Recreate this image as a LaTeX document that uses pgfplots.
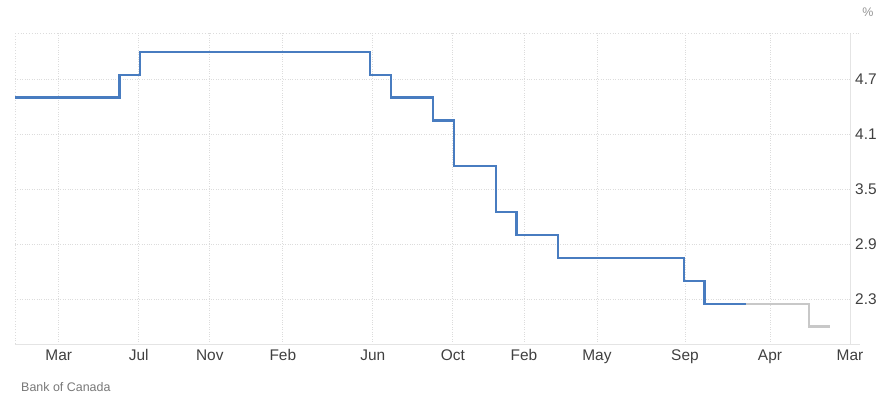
\documentclass[border=0pt]{standalone}
\usepackage{pgfplots}
\pgfplotsset{compat=1.18}
\usepackage{fontspec}
\setmainfont{Liberation Sans}
\definecolor{bocblue}{RGB}{72,124,192}
\definecolor{fcgrey}{RGB}{200,200,200}
\definecolor{gridc}{RGB}{220,220,220}
\definecolor{axisc}{RGB}{228,228,228}
\definecolor{ticktxt}{RGB}{64,64,64}
\definecolor{srctxt}{RGB}{120,120,120}
\definecolor{pcttxt}{RGB}{150,150,150}
\begin{document}
\begin{tikzpicture}[x=1bp,y=1bp]
\path[use as bounding box] (0,0) rectangle (888,402);
\begin{axis}[
  at={(15bp,58bp)}, anchor=south west,
  width=835bp, height=311bp, scale only axis,
  xmin=0, xmax=39.96, ymin=1.81, ymax=5.205,
  axis x line*=bottom, axis y line*=right,
  axis line style={draw=axisc, line width=1bp, -},
  xtick={2.094,5.924,9.323,12.818,17.126,20.955,24.354,27.849,32.061,36.13,39.96},
  xticklabels={Mar,Jul,Nov,Feb,Jun,Oct,Feb,May,Sep,Apr,Mar},
  ytick={2.3,2.9,3.5,4.1,4.7},
  yticklabels={2.3,2.9,3.5,4.1,4.7},
  major tick length=0pt,
  xmajorgrids, ymajorgrids,
  grid style={draw=gridc, dotted, line width=0.8bp},
  xticklabel style={font=\fontsize{15.5}{15.5}\selectfont, text=ticktxt, anchor=north, inner sep=0pt, text height=11bp, text depth=0pt, yshift=-5bp},
  yticklabel style={font=\fontsize{15.5}{15.5}\selectfont, text=ticktxt, anchor=west, inner sep=0pt, xshift=5bp},
  clip=false,
]
\draw[draw=gridc, dotted, line width=0.8bp] (rel axis cs:0,1) -- ([xshift=10bp]rel axis cs:1,1);
\draw[draw=gridc, dotted, line width=0.8bp] (rel axis cs:0,0) -- (rel axis cs:0,1);
\draw[draw=axisc, line width=1bp] (rel axis cs:1,0) -- ([xshift=10bp]rel axis cs:1,0);
\addplot[const plot, draw=fcgrey, line width=2.2bp, line join=miter] coordinates {
  (35,2.25) (38,2.0) (39,2.0)
};
\addplot[const plot, draw=bocblue, line width=2.2bp, line join=miter] coordinates {
  (0,4.5) (5,4.75) (6,5.0) (17,4.75) (18,4.5) (20,4.25) (21,3.75)
  (23,3.25) (24,3.0) (26,2.75) (32,2.5) (33,2.25) (35,2.25)
};
\end{axis}
\node[anchor=center, inner sep=0pt, text=pcttxt, font=\fontsize{12.5}{12.5}\selectfont] at (868,389.5) {\%};
\node[anchor=base west, inner sep=0pt, text=srctxt, font=\fontsize{12.5}{12.5}\selectfont] at (21,10.3) {Bank of Canada};
\end{tikzpicture}
\end{document}
